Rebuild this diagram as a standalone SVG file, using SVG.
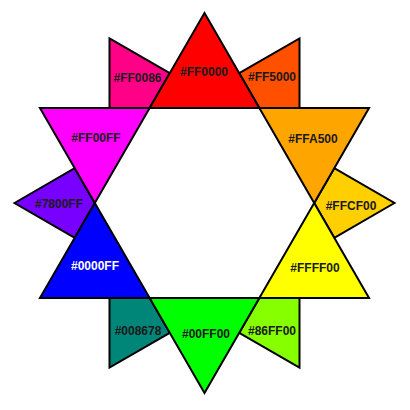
<svg xmlns="http://www.w3.org/2000/svg" width="410" height="410" viewBox="0 0 410 410">
<style>
.p{stroke:#000;stroke-width:2;stroke-linejoin:miter}
.t{font-family:"Liberation Sans",Arial,sans-serif;font-weight:bold;font-size:12px;fill:#1a1a1a;text-anchor:middle}
</style>
<defs>
<polygon id="big" points="0,-190 54.84,-95 -54.84,-95"/>
<polygon id="small" points="190,0 129.75,34.8 109.7,0 129.75,-34.8"/>
</defs>
<rect width="410" height="410" fill="#fff"/>
<g id="n-FFCF00"><use href="#small" class="p" fill="#FFCF00" transform="translate(204.5,203)"/><text class="t" x="351" y="210">#FFCF00</text></g>
<g id="n-FF5000"><use href="#small" class="p" fill="#FF5000" transform="translate(204.5,203) rotate(-60)"/><text class="t" x="272" y="81">#FF5000</text></g>
<g id="n-FF0086"><use href="#small" class="p" fill="#FF0086" transform="translate(204.5,203) rotate(-120)"/><text class="t" x="137.5" y="82">#FF0086</text></g>
<g id="n-7800FF"><use href="#small" class="p" fill="#7800FF" transform="translate(204.5,203) rotate(180)"/><text class="t" x="59" y="208">#7800FF</text></g>
<g id="n-008678"><use href="#small" class="p" fill="#008678" transform="translate(204.5,203) rotate(120)"/><text class="t" x="138" y="335">#008678</text></g>
<g id="n-86FF00"><use href="#small" class="p" fill="#86FF00" transform="translate(204.5,203) rotate(60)"/><text class="t" x="272" y="335">#86FF00</text></g>
<g id="n-FF0000"><use href="#big" class="p" fill="#FF0000" transform="translate(204.5,203)"/><text class="t" x="204" y="76">#FF0000</text></g>
<g id="n-FFA500"><use href="#big" class="p" fill="#FFA500" transform="translate(204.5,203) rotate(60)"/><text class="t" x="313" y="143">#FFA500</text></g>
<g id="n-FFFF00"><use href="#big" class="p" fill="#FFFF00" transform="translate(204.5,203) rotate(120)"/><text class="t" x="315" y="272">#FFFF00</text></g>
<g id="n-00FF00"><use href="#big" class="p" fill="#00FF00" transform="translate(204.5,203) rotate(180)"/><text class="t" x="206" y="338">#00FF00</text></g>
<g id="n-0000FF"><use href="#big" class="p" fill="#0000FF" transform="translate(204.5,203) rotate(240)"/><text class="t" x="95" y="270" style="fill:#fff">#0000FF</text></g>
<g id="n-FF00FF"><use href="#big" class="p" fill="#FF00FF" transform="translate(204.5,203) rotate(300)"/><text class="t" x="96" y="142">#FF00FF</text></g>
<g id="connectors"/>
</svg>
